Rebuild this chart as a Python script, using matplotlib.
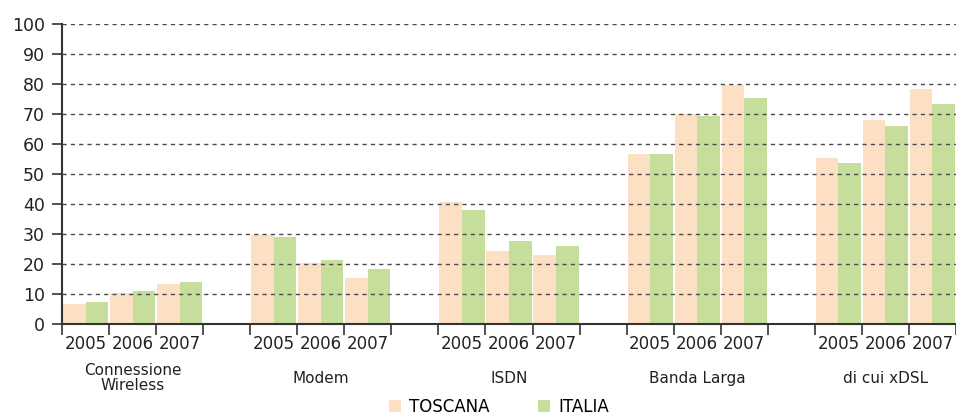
import matplotlib
matplotlib.use("Agg")
import matplotlib.pyplot as plt
import matplotlib.transforms as mtransforms
from matplotlib.patches import Patch

categories = ["Connessione\nWireless", "Modem", "ISDN", "Banda Larga", "di cui xDSL"]
years = ["2005", "2006", "2007"]
toscana = [
    [6.7, 10.2, 13.3],
    [29.6, 20.2, 15.3],
    [40.6, 24.3, 23.0],
    [56.7, 70.0, 79.7],
    [55.3, 68.0, 78.3],
]
italia = [
    [7.3, 11.0, 14.0],
    [29.0, 21.3, 18.3],
    [38.0, 27.7, 26.0],
    [56.7, 69.3, 75.3],
    [53.7, 66.0, 73.3],
]
series_names = ["TOSCANA", "ITALIA"]
c_tos = "#FDDFC4"
c_ita = "#C5DE9B"

plt.rcParams['font.family'] = ['DejaVu Sans']
fig = plt.figure(figsize=(9.56, 4.15), dpi=100)
ax = fig.add_axes([62/956, (415-324)/415, (956-62)/956, 300/415])

bw = 0.48
year_centers = []
year_labels = []
minor = []
for g, cat in enumerate(categories):
    for i, y in enumerate(years):
        s = 4*g + i
        ax.bar(s + 0.02, toscana[g][i], width=bw, align='edge', color=c_tos, zorder=1)
        ax.bar(s + 0.02 + bw, italia[g][i], width=bw, align='edge', color=c_ita, zorder=1)
        year_centers.append(s + 0.5)
        year_labels.append(y)
    minor.extend([4*g + k for k in range(4)])

ax.set_xlim(0, 19)
ax.set_ylim(0, 100)
ax.set_yticks(range(0, 101, 10))
ax.set_xticks(year_centers)
ax.set_xticklabels(year_labels, fontsize=12, color="#222222")
ax.set_xticks(minor, minor=True)
ax.tick_params(axis='x', which='major', length=0, pad=8)
ax.tick_params(axis='x', which='minor', length=8, width=1.2, color="#333333")
ax.tick_params(axis='y', length=7.5, width=1.2, color="#333333", labelsize=12.5,
               labelcolor="#222222", pad=5)

ax.grid(axis='y', color="#4a4a4a", linestyle=(0, (3, 3)), linewidth=1.0, zorder=0)
ax.set_axisbelow(False)
for gl in ax.get_ygridlines():
    gl.set_zorder(2)
for sp in ['top', 'right']:
    ax.spines[sp].set_visible(False)
ax.spines['left'].set_color("#333333")
ax.spines['left'].set_linewidth(1.5)
ax.spines['bottom'].set_color("#333333")
ax.spines['bottom'].set_linewidth(1.5)
ax.spines['bottom'].set_zorder(3)

trans = mtransforms.blended_transform_factory(ax.transData, ax.transAxes)
for g, cat in enumerate(categories):
    ax.text(4*g + 1.5, -0.18, cat, transform=trans, ha='center', va='center',
            fontsize=11, color="#222222", linespacing=0.95)

handles = [Patch(facecolor=c_tos, edgecolor='none'), Patch(facecolor=c_ita, edgecolor='none')]
fig.legend(handles, series_names, loc='center', bbox_to_anchor=(499/956, 1 - 407/415),
           ncol=2, frameon=False, fontsize=12, handlelength=0.7, handleheight=0.7,
           handletextpad=0.5, columnspacing=2.9, borderpad=0)

fig.savefig("out.png", dpi=100)
